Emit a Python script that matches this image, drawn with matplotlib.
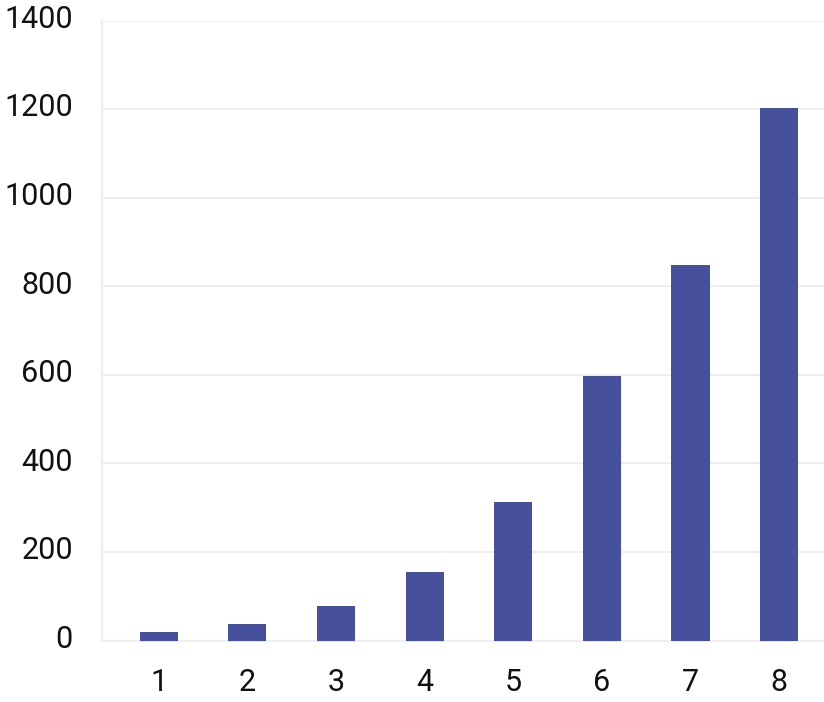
import matplotlib
matplotlib.use("Agg")
import matplotlib.pyplot as plt
import matplotlib.transforms as mtransforms

categories = ["1", "2", "3", "4", "5", "6", "7", "8"]
values = [19, 37, 78, 155, 313, 598, 847, 1203]
y_ticks = [0, 200, 400, 600, 800, 1000, 1200, 1400]

plt.rcParams['font.family'] = ['Roboto', 'DejaVu Sans']

fig = plt.figure(figsize=(8.24, 7.02), dpi=100)
ax = fig.add_axes([102/824, (702-640.5)/702, 1 - 102/824, (640.5-20.5)/702])

x = list(range(1, len(categories) + 1))
ax.bar(x, values, width=0.43, color="#47509d", zorder=3)

ax.set_ylim(0, 1400)
ax.set_xlim(1 - 57/89.0, 8 + 45/89.0)
ax.set_xticks(x)
ax.set_xticklabels(categories)
ax.set_yticks(y_ticks)
ax.set_yticklabels([str(t) for t in y_ticks])

ax.grid(axis='y', color="#eeeeee", linewidth=1.5, zorder=0)
ax.set_axisbelow(True)
for s in ['top', 'right']:
    ax.spines[s].set_visible(False)
for s in ['left', 'bottom']:
    ax.spines[s].set_color("#eeeeee")
    ax.spines[s].set_linewidth(1.5)

ax.tick_params(axis='both', length=0, labelsize=22, colors="#111111")
ax.tick_params(axis='y', pad=21)
ax.tick_params(axis='x', pad=20)

offset = mtransforms.ScaledTranslation(0, 3/72, fig.dpi_scale_trans)
for lbl in ax.get_yticklabels():
    lbl.set_transform(lbl.get_transform() + offset)

fig.savefig("out.png", dpi=100)
